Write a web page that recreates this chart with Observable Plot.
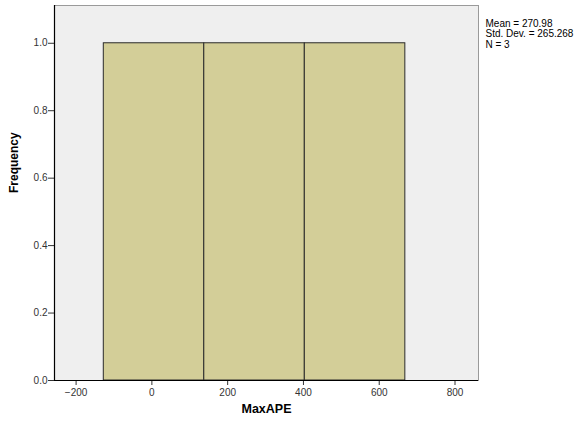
<!DOCTYPE html>
<html>
<head>
<meta charset="utf-8">
<script src="https://cdn.jsdelivr.net/npm/d3@7"></script>
<script src="https://cdn.jsdelivr.net/npm/@observablehq/plot@0.6"></script>
<style>
  html, body { margin: 0; padding: 0; background: #fff; }
  svg { display: block; }
</style>
</head>
<body>
<div id="chart"></div>
<script>
// Histogram bins (lower edge, upper edge) and counts
const binLow = [-126.9, 138.3, 403.6];
const binHigh = [138.3, 403.6, 668.9];
const counts = [1, 1, 1];
const xTicks = [-200, 0, 200, 400, 600, 800];
const yTicks = [0, 0.2, 0.4, 0.6, 0.8, 1.0];
const statLines = ["Mean = 270.98", "Std. Dev. = 265.268", "N = 3"];
const xTitle = "MaxAPE";
const yTitle = "Frequency";

const bins = binLow.map((lo, i) => ({lo, hi: binHigh[i], n: counts[i]}));

const chart = Plot.plot({
  width: 581,
  height: 423,
  marginLeft: 54,
  marginRight: 103,
  marginTop: 5,
  marginBottom: 43,
  style: {fontFamily: "Liberation Sans, Arial, sans-serif", fontSize: "10px", background: "#fff"},
  x: {domain: [-257, 862], ticks: xTicks},
  y: {domain: [0, 1.112], ticks: yTicks},
  marks: [
    Plot.frame({fill: "#efefef", stroke: "#9a9a9a"}),
    Plot.rectY(bins, {x1: "lo", x2: "hi", y1: 0, y2: "n", fill: "#d3ce98", stroke: "#2a2a2a", strokeWidth: 1}),
    Plot.axisX({ticks: xTicks, tickSize: 5, tickPadding: 3, label: null, tickFormat: d3.format("d"), color: "#333", fontSize: 10}),
    Plot.axisY({ticks: yTicks, tickSize: 6, tickPadding: 1, label: null, tickFormat: d3.format(".1f"), color: "#333", fontSize: 10}),
    Plot.ruleY([0], {stroke: "#000", strokeWidth: 1.2}),
    Plot.ruleX([-257], {stroke: "#000", strokeWidth: 1.2}),
    Plot.text([xTitle], {frameAnchor: "bottom", dy: 32, fontWeight: "bold", fontSize: 12.5, fill: "#000"}),
    Plot.text([yTitle], {frameAnchor: "left", dx: -40, rotate: -90, fontWeight: "bold", fontSize: 12, fill: "#000"}),
    Plot.text([statLines.join("\n")], {frameAnchor: "top-right", dx: 7, dy: 14, textAnchor: "start", lineAnchor: "top", lineHeight: 1.05, fontSize: 10, fill: "#000"})
  ]
});
document.getElementById("chart").appendChild(chart);
</script>
</body>
</html>
